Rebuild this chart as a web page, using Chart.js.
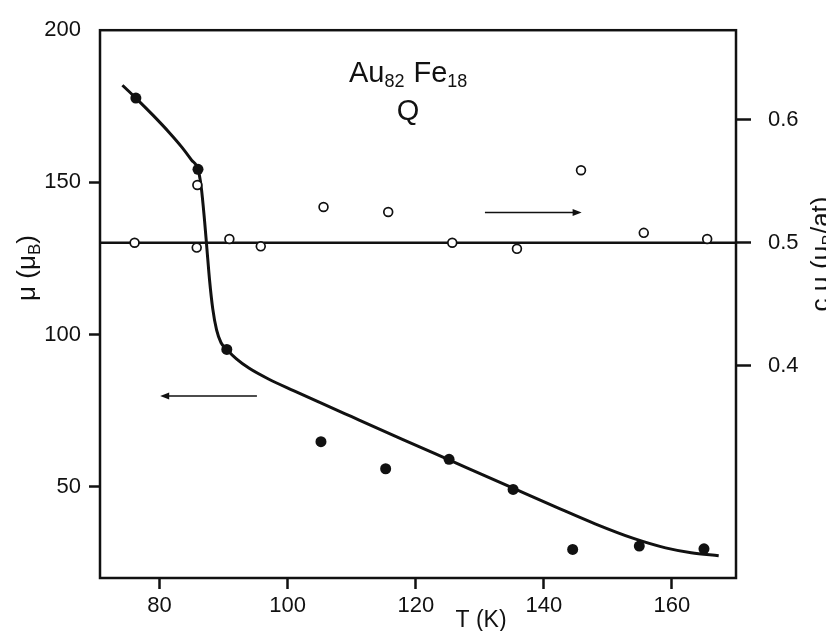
<!DOCTYPE html>
<html>
<head>
<meta charset="utf-8">
<script src="https://cdn.jsdelivr.net/npm/chart.js@4.4.1/dist/chart.umd.min.js"></script>
<style>
  html, body { margin: 0; padding: 0; background: #fff; }
  #wrap { width: 826px; height: 631px; }
</style>
</head>
<body>
<div id="wrap"><canvas id="muChart" width="826" height="631"></canvas></div>
<script>
// axis ranges and ticks
const tRange = [70.7, 170];
const muRange = [20, 200];
const cmuRange = [0.227, 0.673];
const tTicks = [80, 100, 120, 140, 160];
const muTicks = [50, 100, 150, 200];
const cmuTicks = [0.4, 0.5, 0.6];

// moment per Fe atom, mu (mu_B) - filled circles, left axis
const tFilled = [76.3, 86.0, 90.5, 105.2, 115.3, 125.2, 135.2, 144.5, 154.9, 165.0];
const muFilled = [177.7, 154.3, 95.1, 64.8, 55.9, 59.0, 49.1, 29.4, 30.5, 29.6];

// c*mu (mu_B/at) - open circles, right axis
const tOpen = [76.1, 85.9, 85.8, 90.9, 95.8, 105.6, 115.7, 125.7, 135.8, 145.8, 155.6, 165.5];
const cmuOpen = [0.500, 0.547, 0.496, 0.503, 0.497, 0.529, 0.525, 0.500, 0.495, 0.559, 0.508, 0.503];

// hand-drawn guide curve through the mu data
const fitT = [74.2, 76.3, 79.0, 81.5, 83.5, 85.0, 86.0,
              86.5, 87.0, 87.4, 87.8, 88.3, 88.9, 89.6, 90.5,
              92.0, 94.0, 97.0, 101.0, 105.0, 110.0, 118.0, 125.2, 135.2,
              142.0, 148.0, 154.0, 159.0, 163.0, 167.3];
const fitMu = [181.9, 177.7, 172.0, 166.4, 161.5, 157.3, 154.3,
               148.5, 138.0, 128.0, 118.0, 108.5, 101.5, 97.3, 95.1,
               92.0, 88.9, 85.4, 81.5, 77.7, 73.0, 65.5, 58.8, 49.5,
               43.2, 37.8, 33.0, 29.9, 28.3, 27.3];

// constant level for c*mu
const cmuLevel = 0.5;

// arrows telling which axis belongs to which set
const arrows = [
  { from: 95.2, to: 80.1, y: 79.8, axis: 'y' },
  { from: 130.8, to: 145.9, y: 0.5245, axis: 'y2' }
];

const INK = '#111';
const FONT = "'Liberation Sans', Arial, sans-serif";
Chart.defaults.font.family = FONT;
Chart.defaults.color = INK;

const zip = (xs, ys) => xs.map((x, i) => ({ x: x, y: ys[i] }));

// draws runs of text; parts = [text, size, dy, extra gap]
function richText(ctx, parts, x, y, align) {
  let total = 0;
  const widths = parts.map(p => {
    ctx.font = p[1] + 'px ' + FONT;
    const w = ctx.measureText(p[0]).width + (p[3] || 0);
    total += w;
    return w;
  });
  let cx = align === 'center' ? x - total / 2 : x;
  parts.forEach((p, i) => {
    ctx.font = p[1] + 'px ' + FONT;
    ctx.fillText(p[0], cx, y + (p[2] || 0));
    cx += widths[i];
  });
}

const decor = {
  id: 'decor',
  afterDraw(chart) {
    const { ctx, chartArea: a, scales } = chart;
    ctx.save();
    ctx.strokeStyle = INK;
    ctx.fillStyle = INK;

    // frame
    ctx.lineWidth = 2.5;
    ctx.strokeRect(a.left, a.top, a.right - a.left, a.bottom - a.top);

    // arrows
    ctx.lineWidth = 1.5;
    for (const ar of arrows) {
      const x1 = scales.x.getPixelForValue(ar.from);
      const x2 = scales.x.getPixelForValue(ar.to);
      const y = scales[ar.axis].getPixelForValue(ar.y);
      const dir = Math.sign(x2 - x1);
      ctx.beginPath();
      ctx.moveTo(x1, y);
      ctx.lineTo(x2 - dir * 6, y);
      ctx.stroke();
      ctx.beginPath();
      ctx.moveTo(x2, y);
      ctx.lineTo(x2 - dir * 9, y - 3.5);
      ctx.lineTo(x2 - dir * 9, y + 3.5);
      ctx.closePath();
      ctx.fill();
    }

    // sample label
    ctx.textAlign = 'left';
    ctx.textBaseline = 'alphabetic';
    richText(ctx, [['Au', 29], ['82', 18, 5, 9], ['Fe', 29], ['18', 18, 5]], 349, 81.5);
    ctx.font = '29px ' + FONT;
    ctx.textAlign = 'center';
    ctx.fillText('Q', 408, 119.5);

    // x axis title
    ctx.font = '23px ' + FONT;
    ctx.textBaseline = 'middle';
    ctx.fillText('T (K)', 481, 621);

    // left axis title
    ctx.textAlign = 'left';
    ctx.textBaseline = 'alphabetic';
    ctx.save();
    ctx.translate(35, 268);
    ctx.rotate(-Math.PI / 2);
    richText(ctx, [['\u03bc (\u03bc', 26], ['B', 17, 5], [')', 26]], 0, 0, 'center');
    ctx.restore();

    // right axis title
    ctx.save();
    ctx.translate(829, 254);
    ctx.rotate(-Math.PI / 2);
    richText(ctx, [['c \u03bc (\u03bc', 26], ['B', 17, 5], ['/at)', 26]], 0, 0, 'center');
    ctx.restore();

    ctx.restore();
  }
};

const tickGrid = (len) => ({
  drawOnChartArea: false,
  drawTicks: true,
  tickLength: len,
  tickWidth: 2.5,
  tickColor: INK
});

new Chart(document.getElementById('muChart'), {
  type: 'scatter',
  data: {
    datasets: [
      {
        label: 'mu',
        data: zip(tFilled, muFilled),
        yAxisID: 'y',
        pointRadius: 5.5,
        pointBackgroundColor: INK,
        pointBorderColor: INK,
        pointBorderWidth: 0,
        order: 0
      },
      {
        label: 'c mu',
        data: zip(tOpen, cmuOpen),
        yAxisID: 'y2',
        pointRadius: 4.4,
        pointBackgroundColor: '#fff',
        pointBorderColor: INK,
        pointBorderWidth: 1.7,
        order: 1
      },
      {
        label: 'fit',
        data: zip(fitT, fitMu),
        yAxisID: 'y',
        showLine: true,
        pointRadius: 0,
        borderColor: INK,
        borderWidth: 3,
        cubicInterpolationMode: 'monotone',
        order: 2
      },
      {
        label: 'level',
        data: zip(tRange, [cmuLevel, cmuLevel]),
        yAxisID: 'y2',
        showLine: true,
        pointRadius: 0,
        borderColor: INK,
        borderWidth: 2.5,
        order: 3
      }
    ]
  },
  options: {
    responsive: false,
    animation: false,
    layout: { padding: { top: 20, left: 0, right: 0, bottom: 0 } },
    plugins: {
      legend: { display: false },
      tooltip: { enabled: false }
    },
    scales: {
      x: {
        type: 'linear',
        position: 'bottom',
        min: tRange[0],
        max: tRange[1],
        afterBuildTicks: s => { s.ticks = tTicks.map(v => ({ value: v })); },
        afterFit: s => { s.height = 53; },
        grid: tickGrid(11),
        border: { display: false },
        ticks: { font: { size: 22 }, padding: 4, color: INK, maxRotation: 0 }
      },
      y: {
        type: 'linear',
        position: 'left',
        min: muRange[0],
        max: muRange[1],
        afterBuildTicks: s => { s.ticks = muTicks.map(v => ({ value: v })); },
        afterFit: s => { s.width = 100; },
        grid: Object.assign(tickGrid(11), {
          tickColor: c => (c.tick && c.tick.value === 200 ? 'rgba(0,0,0,0)' : INK)
        }),
        border: { display: false },
        ticks: { font: { size: 22 }, padding: 8, color: INK }
      },
      y2: {
        type: 'linear',
        position: 'right',
        min: cmuRange[0],
        max: cmuRange[1],
        afterBuildTicks: s => { s.ticks = cmuTicks.map(v => ({ value: v })); },
        afterFit: s => { s.width = 90; },
        grid: tickGrid(15),
        border: { display: false },
        ticks: {
          font: { size: 22 },
          padding: 17,
          color: INK,
          callback: v => v.toFixed(1)
        }
      }
    }
  },
  plugins: [decor]
});
</script>
</body>
</html>
